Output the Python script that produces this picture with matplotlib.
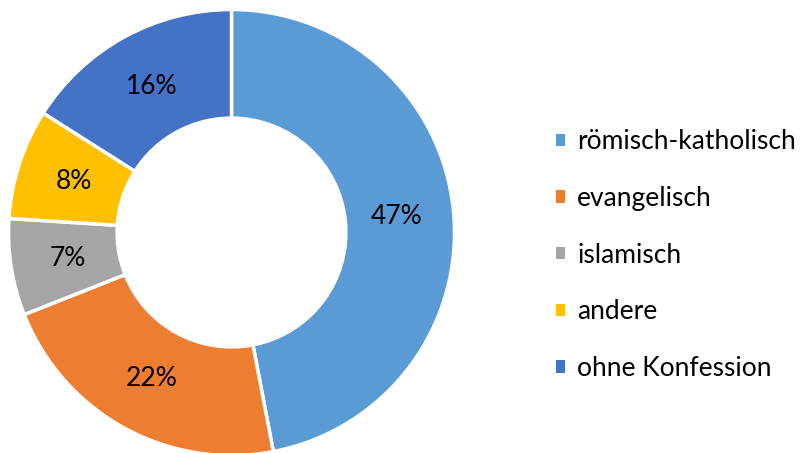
import matplotlib
matplotlib.use("Agg")
import matplotlib.pyplot as plt
from matplotlib.patches import Patch

plt.rcParams['font.family'] = ['Lato', 'DejaVu Sans']

# Konfessionen
categories = ["römisch-katholisch", "evangelisch", "islamisch", "andere", "ohne Konfession"]
shares = [47, 22, 7, 8, 16]
colors = ["#5B9BD5", "#ED7D31", "#A5A5A5", "#FFC000", "#4472C4"]

fig = plt.figure(figsize=(8.04, 4.53), dpi=100)
ax = fig.add_axes([0.0106, -0.0055, 0.5547, 0.9845])

wedges, texts, autotexts = ax.pie(
    shares, colors=colors, startangle=90, counterclock=False,
    autopct=lambda p: f"{p:.0f}%", pctdistance=0.745,
    wedgeprops=dict(width=0.487, edgecolor="white", linewidth=2.5),
    textprops=dict(fontsize=19, color="black"))
ax.set_aspect("equal")
ax.set_xlim(-1, 1)
ax.set_ylim(-1, 1)

handles = [Patch(facecolor=c, edgecolor="none") for c in colors]
fig.legend(handles, categories, loc="center left", bbox_to_anchor=(0.662, 0.437),
           frameon=False, fontsize=19, handlelength=0.35, handleheight=0.35,
           handletextpad=0.45, labelspacing=1.2)

fig.savefig("out.png", dpi=100)
